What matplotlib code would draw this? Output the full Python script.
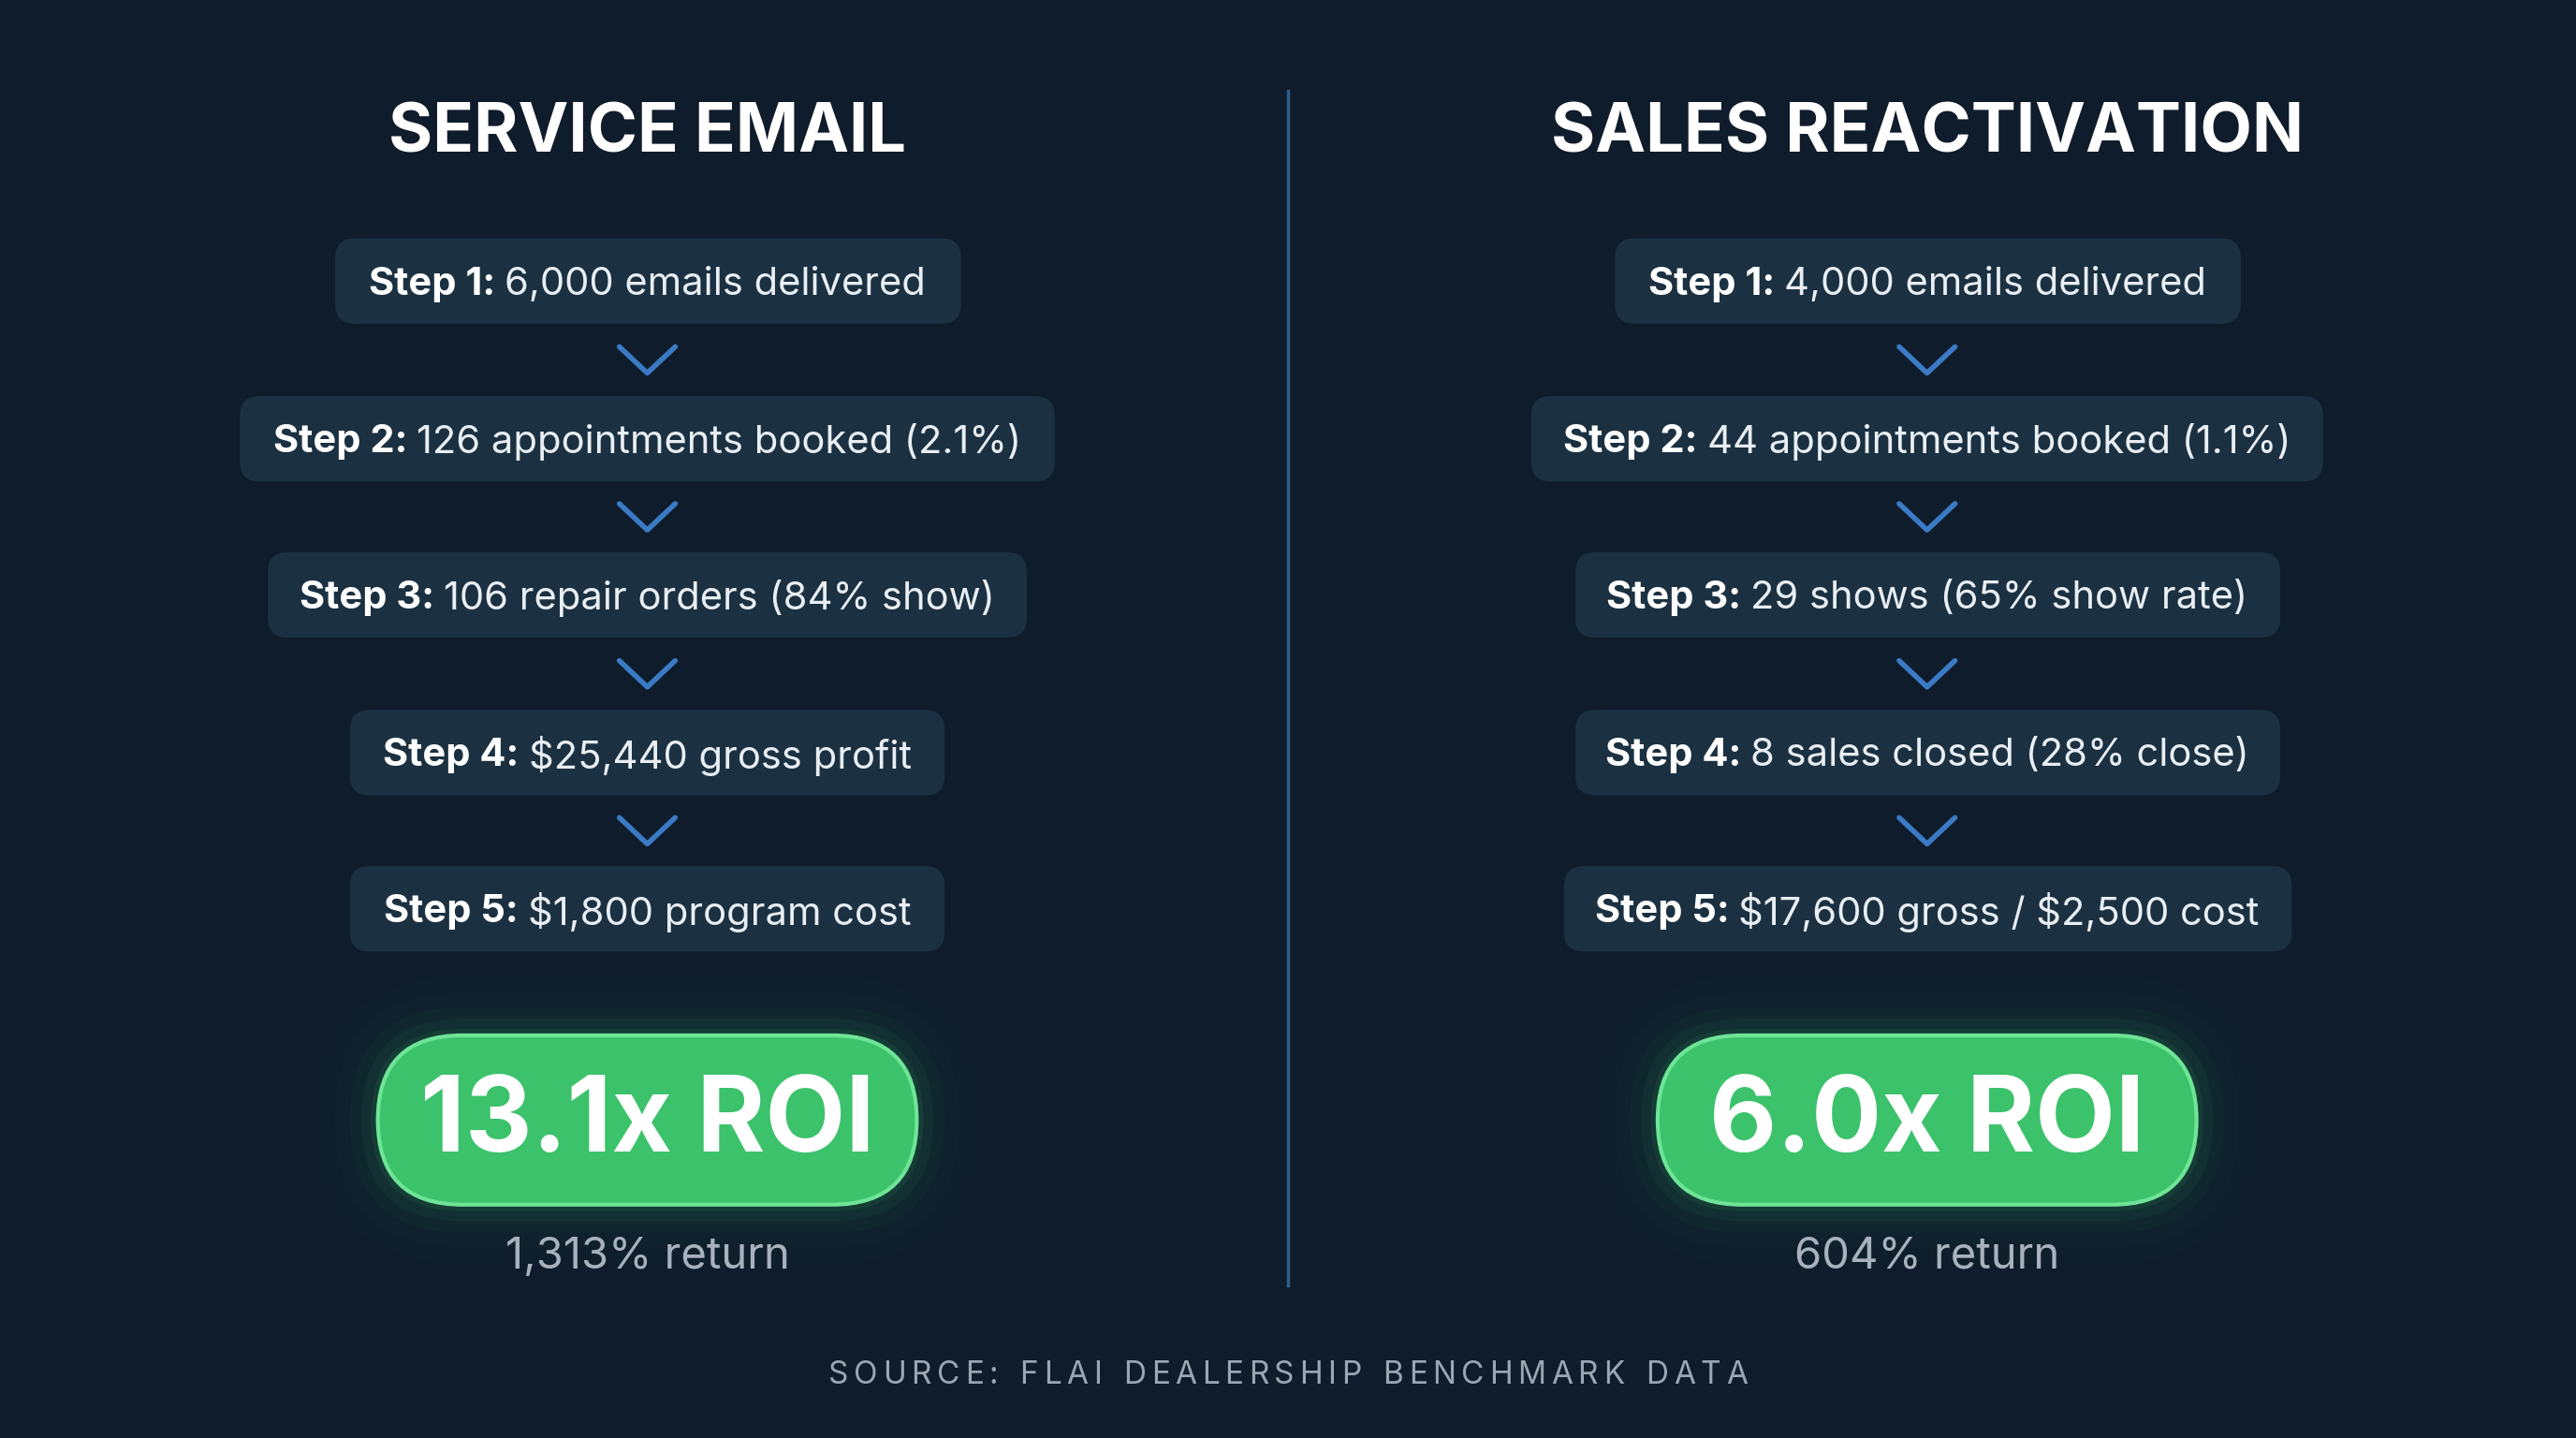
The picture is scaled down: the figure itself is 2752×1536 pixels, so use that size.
import matplotlib
matplotlib.use('Agg')
import matplotlib.pyplot as plt
from matplotlib.patches import FancyBboxPatch

plt.rcParams['font.family'] = ['Inter', 'DejaVu Sans']
plt.rcParams['text.parse_math'] = False

titles = ['SERVICE EMAIL', 'SALES REACTIVATION']
steps_bold = ['Step 1:', 'Step 2:', 'Step 3:', 'Step 4:', 'Step 5:']
left_steps = ['6,000 emails delivered', '126 appointments booked (2.1%)',
              '106 repair orders (84% show)', '$25,440 gross profit', '$1,800 program cost']
right_steps = ['4,000 emails delivered', '44 appointments booked (1.1%)',
               '29 shows (65% show rate)', '8 sales closed (28% close)',
               '$17,600 gross / $2,500 cost']
roi = ['13.1x ROI', '6.0x ROI']
returns = ['1,313% return', '604% return']
source = 'SOURCE: FLAI DEALERSHIP BENCHMARK DATA'

W, H = 1568, 875
BG = '#0f1c2b'
BOX = '#1b3142'

fig = plt.figure(figsize=(27.52, 15.36), dpi=100, facecolor=BG)
ax = fig.add_axes([0, 0, 1, 1])
ax.set_xlim(0, W)
ax.set_ylim(H, 0)
ax.axis('off')
ax.set_facecolor(BG)
r = fig.canvas.get_renderer()

ax.plot([784, 784], [55, 782], color='#2d5d87', lw=2.5)

cx = [394, 1173]
box_x = [[(204, 585), (146, 642), (163, 625), (213, 575), (213, 575)],
         [(983, 1364), (932, 1414), (959, 1388), (959, 1388), (952, 1395)]]
ys = [171, 267, 362, 458, 553]
fs = 30


def text_w(t):
    bb = t.get_window_extent(r)
    return bb.width / fig.bbox.width * W


for side, steps in enumerate([left_steps, right_steps]):
    c = cx[side]
    ax.text(c, 82, titles[side], color='white', fontsize=52, fontweight='bold',
            ha='center', va='center')
    for i, (b, s) in enumerate(zip(steps_bold, steps)):
        x0, x1 = box_x[side][i]
        ax.add_patch(FancyBboxPatch((x0 + 12, ys[i] - 26 + 12), x1 - x0 - 24, 52 - 24,
                                    boxstyle='round,pad=12', fc=BOX, ec='none'))
        tb = ax.text(0, ys[i] + 2, b + ' ', color='white', fontsize=fs, fontweight='bold',
                     ha='left', va='center')
        tr = ax.text(0, ys[i] + 2, s, color='#e8eef3', fontsize=fs, ha='left', va='center')
        wb, wr = text_w(tb), text_w(tr)
        start = c - (wb + wr) / 2
        tb.set_x(start)
        tr.set_x(start + wb)
        if i < 4:
            yc = (ys[i] + ys[i + 1]) / 2
            ax.plot([c - 17, c, c + 17], [yc - 8, yc + 8, yc - 8], color='#3b7ac4',
                    lw=4, solid_capstyle='round', solid_joinstyle='round')
    # ROI pill with glow
    px0, px1, py0, py1 = c - 164, c + 164, 630, 733
    rad = (py1 - py0) / 2
    for k, a in [(36, 0.015), (26, 0.025), (17, 0.04), (10, 0.06), (4, 0.09)]:
        ax.add_patch(FancyBboxPatch((px0 + rad, py0 + rad), px1 - px0 - 2 * rad, 0.01,
                                    boxstyle='round,pad=%f' % (rad + k), fc='#35c46a',
                                    ec='none', alpha=a))
    ax.add_patch(FancyBboxPatch((px0 + rad, py0 + rad), px1 - px0 - 2 * rad, 0.01,
                                boxstyle='round,pad=%f' % rad, fc='#3cc26b',
                                ec='#6ee596', lw=3))
    ax.text(c, 684, roi[side], color='white', fontsize=80, fontweight='bold',
            ha='center', va='center')
    ax.text(c, 765, returns[side], color='#a7b2bd', fontsize=34, ha='center', va='center')

# letter-spaced source line
spacing = 3.2
chars = [ax.text(0, 837, ch, color='#9aa6b2', fontsize=24, ha='left', va='center')
         for ch in source]
widths = [text_w(t) if ch != ' ' else 7 for t, ch in zip(chars, source)]
total = sum(widths) + spacing * (len(chars) - 1)
x = 784 - total / 2
for t, w in zip(chars, widths):
    t.set_x(x)
    x += w + spacing

fig.savefig('out.png', dpi=100, facecolor=BG)
